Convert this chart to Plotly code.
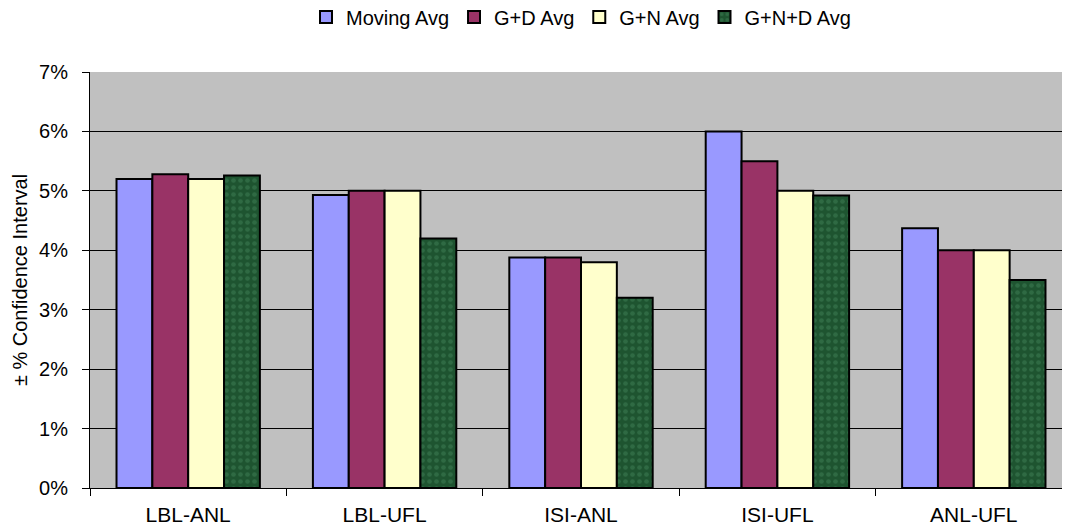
import plotly.graph_objects as go

categories = ["LBL-ANL", "LBL-UFL", "ISI-ANL", "ISI-UFL", "ANL-UFL"]
moving_avg = [5.2, 4.93, 3.88, 6.0, 4.37]
gd_avg = [5.28, 5.0, 3.88, 5.5, 4.0]
gn_avg = [5.2, 5.0, 3.8, 5.0, 4.0]
gnd_avg = [5.26, 4.2, 3.2, 4.92, 3.5]

series = [
    ("Moving Avg", moving_avg, "#9999FF", None),
    ("G+D Avg", gd_avg, "#993366", None),
    ("G+N Avg", gn_avg, "#FFFFCC", None),
    ("G+N+D Avg", gnd_avg, "#1E5430",
     dict(shape=".", fgcolor="#3F7F55", size=7, solidity=0.35, fillmode="overlay")),
]

fig = go.Figure()
for name, vals, color, pattern in series:
    marker = dict(color=color, line=dict(color="black", width=2))
    if pattern:
        marker["pattern"] = pattern
    fig.add_trace(go.Bar(name=name, x=categories, y=[v / 100 for v in vals], marker=marker))

fig.update_layout(
    width=1070, height=531,
    margin=dict(l=82, r=6, t=64, b=51, autoexpand=False),
    paper_bgcolor="white", plot_bgcolor="#C0C0C0",
    barmode="group", bargap=0.27, bargroupgap=0,
    font=dict(family="Liberation Sans, Arial", size=20, color="black"),
    legend=dict(orientation="h", x=0.5, xanchor="center", y=1.132, yanchor="middle",
                yref="paper", font=dict(size=20), itemwidth=30,
                traceorder="normal", tracegroupgap=0),
    showlegend=True,
)
fig.update_yaxes(range=[0, 0.07], dtick=0.01, tickformat=".0%",
                 showgrid=True, gridcolor="black", gridwidth=1,
                 showline=True, linecolor="black", linewidth=1,
                 ticks="outside", ticklen=7, tickcolor="black",
                 ticklabelstandoff=10,
                 title=dict(text="± % Confidence Interval", font=dict(size=20), standoff=6),
                 zeroline=False)
fig.update_xaxes(showline=True, linecolor="black", linewidth=1,
                 ticks="outside", ticklen=7, tickcolor="black",
                 ticklabelstandoff=8, tickfont=dict(size=21),
                 tickson="boundaries", showgrid=False)

fig.write_html("out.html")
